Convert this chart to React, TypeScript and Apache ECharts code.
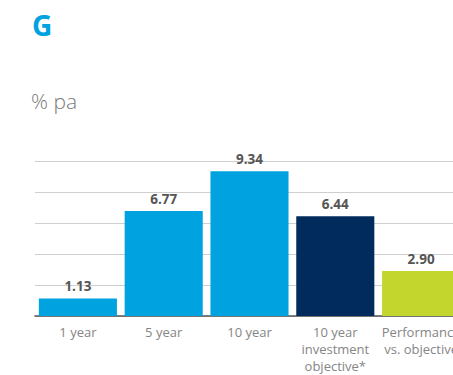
import React, { useEffect, useRef } from "react";
import * as echarts from "echarts";

const categories = ["1 year", "5 year", "10 year", "10 year\ninvestment\nobjective*", "Performance\nvs. objective"];
const values = [1.13, 6.77, 9.34, 6.44, 2.9];
const barColors = ["#00A3E0", "#00A3E0", "#00A3E0", "#002B5C", "#C2D62E"];
const titleText = "G";
const unitText = "% pa";

export default function App() {
  const ref = useRef<HTMLDivElement>(null);
  useEffect(() => {
    document.body.style.margin = "0";
    document.body.style.overflow = "hidden";
    const chart = echarts.init(ref.current!, null, { renderer: "svg" });
    chart.setOption({
      animation: false,
      backgroundColor: "#ffffff",
      graphic: [
        {
          type: "text",
          left: 32,
          top: 11,
          style: { text: titleText, fill: "#00A3E0", font: "bold 28px 'Open Sans'" },
        },
        {
          type: "text",
          left: 31,
          top: 90,
          style: { text: unitText, fill: "#7a7a7a", font: "300 21px 'Open Sans'" },
        },
      ],
      grid: { left: 35, right: 0, top: 161, bottom: 59, containLabel: false },
      xAxis: {
        type: "category",
        data: categories,
        axisLine: { lineStyle: { color: "#555", width: 1.5 } },
        axisTick: { show: false },
        axisLabel: {
          color: "#858585",
          fontFamily: "Open Sans",
          fontSize: 13,
          lineHeight: 17,
          margin: 7,
          interval: 0,
        },
      },
      yAxis: {
        type: "value",
        min: 0,
        max: 10,
        interval: 2,
        axisLabel: { show: false },
        axisLine: { show: false },
        axisTick: { show: false },
        splitLine: { lineStyle: { color: "#cfcfcf", width: 1.2 } },
      },
      series: [
        {
          type: "bar",
          barCategoryGap: "9%",
          data: values.map((v, i) => ({ value: v, itemStyle: { color: barColors[i] } })),
          label: {
            show: true,
            position: "top",
            distance: 5,
            color: "#555",
            fontFamily: "Open Sans",
            fontWeight: "bold",
            fontSize: 13.5,
            formatter: (p: any) => p.value.toFixed(2),
          },
        },
      ],
    });
    return () => chart.dispose();
  }, []);
  return <div ref={ref} style={{ width: 464, height: 375 }} />;
}
